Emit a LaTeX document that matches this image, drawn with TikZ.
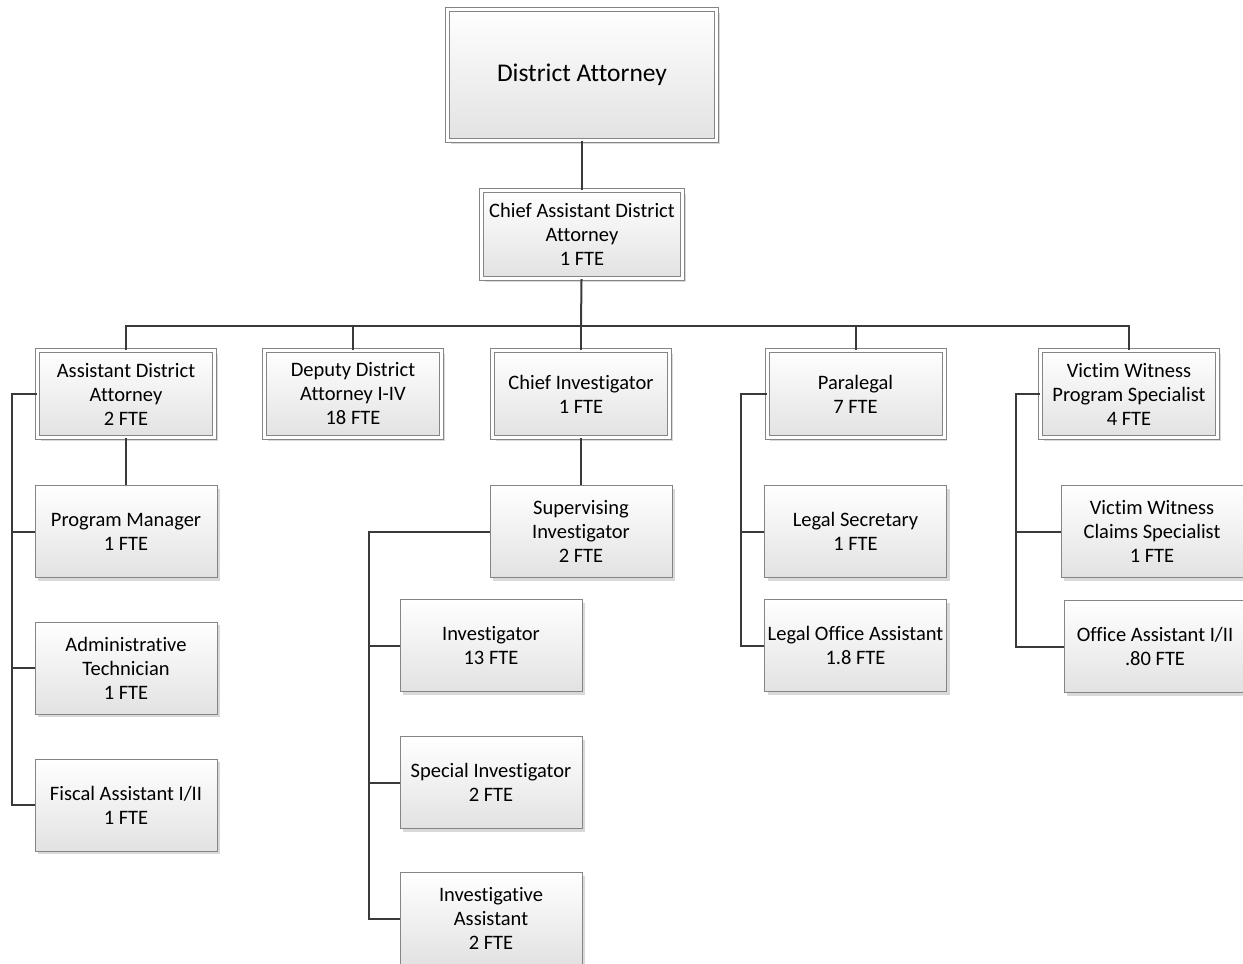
\documentclass[tikz,border=0pt]{standalone}
\usepackage{fontspec}
\setmainfont{Carlito}[Ligatures=NoCommon]
\usetikzlibrary{shadows}
\definecolor{bordergray}{HTML}{858585}
\definecolor{linegray}{HTML}{3A3A3A}
\definecolor{shadegray}{HTML}{E2E2E2}
\tikzset{
 base/.style={draw=bordergray, line width=1pt, top color=white, bottom color=shadegray, align=center, font=\fontsize{20.5}{24}\selectfont, inner sep=2pt, drop shadow={shadow xshift=3pt, shadow yshift=-3pt, fill=black, opacity=0.15}},
 single/.style={base, minimum width=182pt, minimum height=92pt},
 dbl/.style={base, double=white, double distance=3pt, minimum width=177pt, minimum height=87pt},
 conn/.style={draw=linegray, line width=2pt},
}
\begin{document}
\begin{tikzpicture}[x=1pt,y=-1pt]
\useasboundingbox[fill=white] (0,0) rectangle (1243,964);
% nodes
\node[dbl, minimum width=269pt, minimum height=131pt, font=\fontsize{25.5}{30}\selectfont] (da) at (582,75) {District Attorney};
\node[dbl, minimum width=201pt, minimum height=88pt] (cada) at (582,234.5) {Chief Assistant District\\Attorney\\1 FTE};
\node[dbl] (ada) at (126,394) {Assistant District\\Attorney\\2 FTE};
\node[dbl] (dda) at (353,394) {Deputy District\\Attorney I-IV\\18 FTE};
\node[dbl] (ci) at (581,394) {Chief Investigator\\1 FTE};
\node[dbl] (para) at (855.5,394) {Paralegal\\7 FTE};
\node[dbl] (vwps) at (1129,394) {Victim Witness\\Program Specialist\\4 FTE};
\node[single] (pm) at (126,531.5) {Program Manager\\1 FTE};
\node[single] (at) at (126,668) {Administrative\\Technician\\1 FTE};
\node[single] (fa) at (126,805) {Fiscal Assistant I/II\\1 FTE};
\node[single] (si) at (581,531.5) {Supervising\\Investigator\\2 FTE};
\node[single] (inv) at (491,645.5) {Investigator\\13 FTE};
\node[single] (sinv) at (491,782.5) {Special Investigator\\2 FTE};
\node[single] (ia) at (491,918.5) {Investigative\\Assistant\\2 FTE};
\node[single] (ls) at (855.5,531.5) {Legal Secretary\\1 FTE};
\node[single] (loa) at (855.5,645.5) {Legal Office Assistant\\1.8 FTE};
\node[single] (vwcs) at (1152,531.5) {Victim Witness\\Claims Specialist\\1 FTE};
\node[single] (oa) at (1155,646.5) {Office Assistant I/II\\.80 FTE};
% connectors
\coordinate (bus) at (581,326);
\coordinate (adab) at (12,0);
\coordinate (sib) at (369,0);
\coordinate (pb) at (741,0);
\coordinate (vwb) at (1016,0);
\draw[conn] (da) -- (cada);
\draw[conn] (cada) -- (bus);
\draw[conn] (ada.north) -- (ada.north |- bus) -- (vwps.north |- bus) -- (vwps.north);
\draw[conn] (dda.north) -- (dda.north |- bus);
\draw[conn] (ci.north) -- (ci.north |- bus);
\draw[conn] (para.north) -- (para.north |- bus);
\draw[conn] (ada) -- (pm);
\draw[conn] (ada.west) -- (ada.west -| adab) |- (fa.west);
\draw[conn] (pm.west -| adab) -- (pm.west);
\draw[conn] (at.west -| adab) -- (at.west);
\draw[conn] (ci) -- (si);
\draw[conn] (si.west) -- (si.west -| sib) |- (ia.west);
\draw[conn] (inv.west -| sib) -- (inv.west);
\draw[conn] (sinv.west -| sib) -- (sinv.west);
\draw[conn] (para.west) -- (para.west -| pb) |- (loa.west);
\draw[conn] (ls.west -| pb) -- (ls.west);
\draw[conn] (vwps.west) -- (vwps.west -| vwb) |- (oa.west);
\draw[conn] (vwcs.west -| vwb) -- (vwcs.west);
\end{tikzpicture}
\end{document}
